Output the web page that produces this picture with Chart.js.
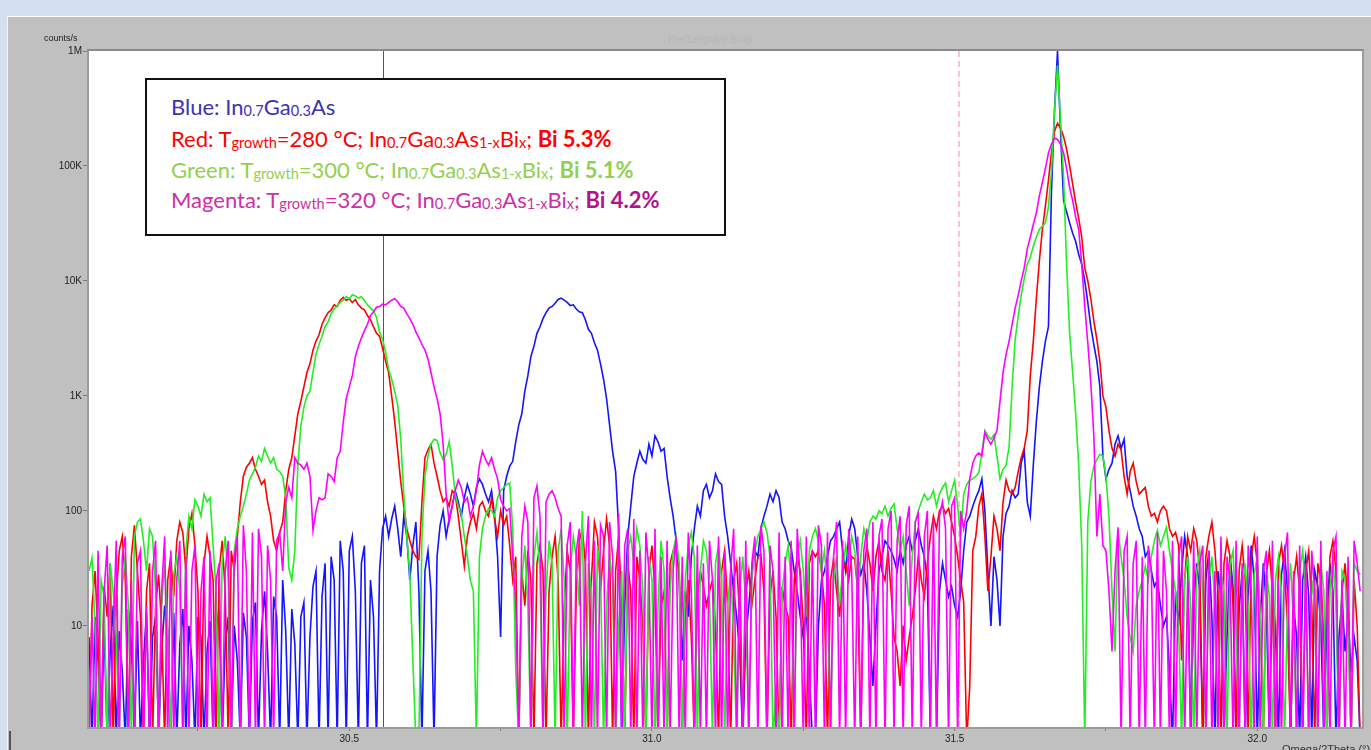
<!DOCTYPE html>
<html><head><meta charset="utf-8">
<script src="https://cdn.jsdelivr.net/npm/chart.js@4/dist/chart.umd.min.js"></script>
<style>
html,body{margin:0;padding:0;width:1371px;height:750px;overflow:hidden;background:#d3deef;}
#panel{position:absolute;left:7px;top:16px;width:1364px;height:734px;background:#c0c0c0;border-top:1px solid #fff;border-left:1px solid #f2f5fa;box-sizing:border-box;}
#cv{position:absolute;left:0;top:0;}
.lbl{position:absolute;font-family:"Liberation Sans",Arial,sans-serif;color:#222;white-space:nowrap;}
#legend{position:absolute;left:145px;top:78px;width:581px;height:158px;box-sizing:border-box;border:2px solid #111;background:#fff;font-family:Lato,"Open Sans",sans-serif;font-size:22px;}
#legend .ln{position:absolute;left:24px;white-space:nowrap;line-height:26px;}
#legend sub{font-size:0.66em;vertical-align:-0.1em;line-height:0;}
#legend b{font-weight:700;}
#edge{position:absolute;left:9px;top:731px;width:2px;height:19px;background:#555;}
</style></head>
<body>
<div id="panel"></div>
<div id="edge"></div>
<canvas id="cv" width="1371" height="750"></canvas>
<div class="lbl" style="left:44px;top:33px;font-size:9px;">counts/s</div>
<div class="lbl" style="left:668px;top:33px;font-size:11px;color:#b6b6b6;">Rectangular Snip</div>
<div class="lbl" style="left:1282px;top:743px;font-size:11px;color:#333;">Omega/2Theta (°)</div>
<div id="legend">
  <div class="ln" style="top:14px;color:#3b33b6;">Blue: In<sub>0.7</sub>Ga<sub>0.3</sub>As</div>
  <div class="ln" style="top:46px;color:#ff0000;">Red: T<sub>growth</sub>=280 °C; In<sub>0.7</sub>Ga<sub>0.3</sub>As<sub>1-x</sub>Bi<sub>x</sub>; <b>Bi 5.3%</b></div>
  <div class="ln" style="top:77px;color:#92d050;">Green: T<sub>growth</sub>=300 °C; In<sub>0.7</sub>Ga<sub>0.3</sub>As<sub>1-x</sub>Bi<sub>x</sub>; <b>Bi 5.1%</b></div>
  <div class="ln" style="top:107px;color:#cc2fa6;">Magenta: T<sub>growth</sub>=320 °C; In<sub>0.7</sub>Ga<sub>0.3</sub>As<sub>1-x</sub>Bi<sub>x</sub>; <b style="color:#b3128c;">Bi 4.2%</b></div>
</div>
<script>
// Omega/2Theta scan grid (degrees)
const startAngle = 30.07;
const stepAngle = 0.005;

// counts/s (1 = zero counts, below the axis floor)
const blueCounts = [
8,1,12,5,1,10,1,6,15,1,
9,4,1,14,7,1,11,1,5,13,
1,8,12,1,6,15,9,1,13,1,
7,14,1,10,5,1,12,8,1,6,
11,1,9,14,1,7,12,1,10,5,
1,13,8,1,11,16,1,9,20,6,
1,18,12,1,25,9,1,14,7,1,
12,16,1,8,22,30,1,18,35,1,
40,25,1,55,30,1,45,60,20,1,
35,50,1,25,12,1,30,70,90,60,
85,110,70,40,90,60,25,50,80,20,
1,30,45,20,1,40,75,100,60,85,
110,150,120,90,130,170,140,110,160,190,
170,140,120,150,90,40,8,150,200,245,
270,400,560,700,1100,1500,2200,2700,3500,4000,
4700,5300,5800,6000,6400,6900,7100,6800,6500,6100,
6200,5700,5400,5300,4600,3800,3500,2900,2500,1900,
1400,950,560,330,220,70,1,15,60,110,
200,260,330,280,260,380,300,450,400,330,
350,200,130,90,55,25,5,20,12,40,
70,110,90,150,170,130,150,210,180,170,
90,60,35,20,12,6,1,8,15,30,
45,40,70,90,110,140,120,150,130,80,
70,55,48,30,20,12,8,14,4,1,
1,10,25,30,40,55,60,70,80,45,
30,60,85,70,40,28,35,20,8,3,
10,30,40,55,50,45,38,30,45,35,
50,60,45,55,70,50,40,25,1,1,
1,20,35,25,18,22,15,12,20,45,
80,90,110,130,150,190,100,30,10,40,
25,10,60,95,110,150,130,140,260,330,
120,90,250,600,1200,2000,3000,4000,60000,300000,
1000000,200000,50000,40000,32000,26000,22000,17000,14000,10000,
6500,4000,2800,2000,1200,300,190,230,260,380,
450,350,420,200,150,110,90,70,60,40,
45,30,22,25,15,10,12,4,1,20,
10,30,60,40,1,15,35,20,1,25,
45,12,1,30,18,1,8,40,22,1,
14,30,1,18,50,25,1,12,35,15,
1,20,10,1,28,45,20,1,15,8,
1,25,40,18,1,30,22,10,1,12,
35,20,1,8,18,6,12,4,8,5,1
];
const redCounts = [
1,15,30,8,1,22,12,35,1,18,
45,60,25,1,40,75,30,12,1,20,
35,1,15,28,10,1,25,40,18,55,
80,65,30,70,95,50,20,1,35,60,
40,25,1,30,55,20,1,45,30,60,
120,200,240,260,290,230,200,170,185,120,
90,55,45,65,80,150,230,290,450,700,
900,1200,1600,1900,2500,3000,3400,4200,4800,5300,
5600,6200,6000,6800,7200,6800,7000,6500,6900,6200,
5800,5600,5000,4600,4000,3500,3300,2600,2000,1600,
1000,600,330,180,110,70,55,45,40,38,
120,290,340,380,260,200,150,120,130,110,
150,140,90,55,33,60,80,95,70,110,
120,100,90,130,85,60,100,75,90,50,
25,40,1,30,15,45,25,1,35,50,
30,1,20,40,60,25,1,15,45,30,
1,20,55,70,35,1,25,80,60,20,
45,85,50,1,30,60,15,1,35,20,
1,40,25,10,1,30,50,20,1,15,
20,1,35,45,50,30,1,12,25,8,
1,18,30,22,15,20,25,10,1,30,
45,15,1,25,35,12,1,20,30,15,
25,40,42,20,1,18,30,12,1,22,
15,12,1,25,40,30,10,1,35,45,
40,45,30,15,1,25,38,20,12,30,
35,25,40,38,20,1,30,50,35,20,
40,55,30,25,45,20,8,6,3,10,
5,8,12,20,40,25,18,35,60,90,
70,100,110,95,105,80,60,40,25,16,
1,3,45,60,110,140,60,20,40,90,
70,45,120,185,150,140,160,220,290,350,
500,1500,3000,7000,15000,28000,45000,75000,130000,200000,
235000,215000,180000,140000,100000,70000,48000,35000,24000,13000,
10000,7000,4500,3100,2000,1000,800,500,350,300,
380,340,200,140,220,260,180,140,150,160,
110,90,95,80,100,110,100,70,60,65,
50,5,25,60,45,70,55,30,1,40,
60,80,45,20,1,35,55,40,15,1,
30,50,25,1,40,60,35,12,1,28,
45,20,1,35,50,30,10,1,25,40,
20,1,30,45,15,1,35,25,8,1,
40,55,30,1,20,35,15,1,25,10,1
];
const greenCounts = [
30,39,10,1,25,18,1,35,20,8,
1,22,40,15,1,60,80,85,55,30,
70,60,20,1,15,35,10,1,28,40,
20,1,45,90,70,125,110,90,140,120,
130,50,20,1,35,60,25,1,45,70,
90,110,140,185,210,240,300,270,350,300,
260,290,230,220,200,130,32,25,45,250,
550,800,1000,1100,1600,2300,2800,3300,4000,4400,
5200,5700,6100,6500,6800,7300,7000,7600,7400,7100,
7300,6800,6200,5800,5500,4800,3600,3100,2400,1700,
1400,1100,830,420,140,60,28,5,1,1,
60,200,300,380,420,410,320,280,310,400,
250,140,110,95,60,40,25,20,1,40,
70,90,105,100,90,130,150,160,170,175,
70,4,1,25,50,15,1,40,65,30,
1,20,55,35,1,45,70,25,1,30,
60,40,15,100,1,35,20,1,50,30,
1,15,40,25,1,10,30,1,45,60,
35,70,50,20,1,40,25,1,15,55,
30,1,20,45,60,35,1,25,50,65,
40,1,30,55,45,20,1,35,50,25,
1,15,30,8,1,20,40,15,1,25,
45,60,70,80,65,40,1,3,1,20,
35,50,25,1,40,55,30,12,45,60,
70,55,30,45,20,1,25,40,15,30,
50,35,60,45,20,40,70,55,80,90,
85,100,95,110,90,105,115,70,45,60,
30,15,40,80,100,120,140,125,130,150,
110,140,160,175,120,150,185,110,60,140,
170,185,190,200,215,320,500,450,420,460,
300,190,230,250,360,1200,3100,4900,7500,10500,
14000,16000,20000,24000,28000,30000,32000,44000,90000,300000,
750000,250000,80000,14000,3500,1600,700,250,50,1,
80,180,245,280,310,300,200,90,20,6,
68,40,25,12,8,6,15,20,25,33,
25,40,55,68,50,60,72,45,30,20,
10,1,25,40,15,1,30,45,20,1,
25,40,15,1,30,20,1,35,45,10,
1,20,35,15,1,28,40,12,1,30,
18,1,25,40,20,1,15,35,10,1,
30,45,20,1,25,15,1,35,20,1,
20,40,15,1,30,25,8,1,35,30,28
];
const magentaCounts = [
1,12,1,45,1,20,50,1,8,55,
1,40,60,1,25,1,35,45,1,15,
1,30,55,1,20,60,1,45,1,25,
55,1,40,1,30,50,1,20,40,1,
45,1,25,35,1,30,55,1,40,60,
1,75,30,1,65,1,70,40,1,50,
25,1,55,65,30,120,160,130,290,260,
250,230,260,200,68,100,130,125,130,210,
200,180,290,330,590,950,1200,1500,2200,2700,
3200,3700,4200,5000,5400,5900,6000,6300,6200,6500,
6800,7000,6600,6000,5800,5200,4700,4200,3600,3200,
2800,2500,2100,1600,1200,950,700,380,140,80,
110,150,185,160,120,130,90,110,150,250,
330,280,250,290,230,190,125,110,100,105,
40,16,1,60,110,80,1,130,165,90,
1,120,140,150,130,105,90,1,50,80,
1,45,70,1,35,90,1,55,1,75,
60,1,80,40,1,95,1,50,70,1,
85,1,45,1,65,30,1,70,1,40,
1,55,1,30,60,1,40,1,65,20,
1,50,1,35,1,55,25,1,60,1,
45,1,30,70,1,40,1,55,1,35,
60,1,75,45,1,50,30,1,65,1,
40,1,55,1,70,25,1,60,1,45,
1,75,50,1,65,1,40,80,1,55,
1,70,30,1,60,1,45,70,1,80,
1,60,85,1,70,100,1,55,90,1,
75,110,1,80,95,1,60,100,1,85,
1,90,120,70,1,110,130,1,100,70,
100,190,260,300,320,300,480,420,380,430,
500,900,1600,2300,3000,4200,5800,7500,10000,13000,
19000,24000,31000,39000,55000,72000,95000,130000,155000,175000,
170000,155000,130000,95000,65000,50000,36000,28000,14000,6000,
2900,1300,450,60,140,50,45,20,6,30,
72,1,45,60,1,35,55,1,40,1,
50,30,1,65,1,45,20,1,55,1,
40,60,1,25,1,55,1,35,50,1,
45,1,30,1,60,1,40,25,1,55,
1,35,1,50,20,1,60,1,30,45,
1,55,1,25,1,40,65,1,30,1,
50,1,35,1,45,20,1,55,1,30,
1,45,60,1,25,1,40,1,55,35,20
];

// axis ticks
const yTickValues = [10, 100, 1000, 10000, 100000, 1000000];
const yTickLabels = ['10', '100', '1K', '10K', '100K', '1M'];
const xTickValues = [30.25, 30.5, 30.75, 31.0, 31.25, 31.5, 31.75, 32.0];
const xTickLabels = ['', '30.5', '', '31.0', '', '31.5', '', '32.0'];
// marker lines (degrees)
const cursorAngle = 30.556;
const referenceAngle = 31.508;

const angles = blueCounts.map((_, i) => +(startAngle + i * stepAngle).toFixed(3));
const toXY = arr => arr.map((v, i) => ({x: angles[i], y: v}));

const decor = {
  id: 'decor',
  beforeDraw(chart) {
    const {ctx, chartArea: a} = chart;
    ctx.save();
    ctx.fillStyle = '#ffffff';
    ctx.fillRect(a.left, a.top, a.right - a.left, a.bottom - a.top);
    ctx.restore();
  },
  beforeDatasetsDraw(chart) {
    const {ctx, chartArea: a, scales: {x}} = chart;
    ctx.save();
    ctx.beginPath(); ctx.rect(a.left, a.top, a.right - a.left, a.bottom - a.top); ctx.clip();
    let px = Math.round(x.getPixelForValue(cursorAngle)) + 0.5;
    ctx.strokeStyle = '#555'; ctx.lineWidth = 1;
    ctx.beginPath(); ctx.moveTo(px, a.top); ctx.lineTo(px, a.bottom); ctx.stroke();
    px = Math.round(x.getPixelForValue(referenceAngle));
    ctx.strokeStyle = '#ffc4cb'; ctx.lineWidth = 2; ctx.setLineDash([6, 4]);
    ctx.beginPath(); ctx.moveTo(px, a.top); ctx.lineTo(px, a.bottom); ctx.stroke();
    ctx.restore();
  },
  afterDraw(chart) {
    const {ctx, chartArea: a} = chart;
    ctx.save();
    ctx.lineWidth = 2;
    ctx.strokeStyle = '#9c9c9c';
    ctx.beginPath();
    ctx.moveTo(a.left - 1, a.top); ctx.lineTo(a.left - 1, a.bottom + 2);
    ctx.moveTo(a.left - 1, a.bottom + 1); ctx.lineTo(a.right + 2, a.bottom + 1);
    ctx.moveTo(a.right + 1, a.top); ctx.lineTo(a.right + 1, a.bottom + 2);
    ctx.stroke();
    ctx.strokeStyle = '#8a8a8a';
    ctx.beginPath(); ctx.moveTo(a.left - 2, a.top - 1); ctx.lineTo(a.right + 2, a.top - 1); ctx.stroke();
    ctx.restore();
  }
};

const ds = (label, arr, color) => ({
  label, data: toXY(arr), borderColor: color, borderWidth: 1.6,
  pointRadius: 0, tension: 0, fill: false, clip: 0
});

new Chart(document.getElementById('cv'), {
  type: 'line',
  data: {
    datasets: [
      ds('Magenta', magentaCounts, '#ff00ff'),
      ds('Green', greenCounts, '#22ee22'),
      ds('Red', redCounts, '#ff0000'),
      ds('Blue', blueCounts, '#1414ff')
    ]
  },
  options: {
    responsive: false, animation: false, devicePixelRatio: 1,
    layout: {padding: {left: 0, right: 9, top: 51, bottom: 0}},
    plugins: {legend: {display: false}, tooltip: {enabled: false}},
    scales: {
      x: {
        type: 'linear', min: 30.07, max: 32.173,
        afterFit(s) { s.height = 23; },
        afterBuildTicks(s) { s.ticks = xTickValues.map(v => ({value: v})); },
        border: {display: false},
        grid: {drawOnChartArea: false, drawTicks: true, tickLength: 4, color: '#777'},
        ticks: {
          autoSkip: false, maxRotation: 0, padding: 2, color: '#222',
          font: {family: 'Liberation Sans', size: 10},
          callback: (v, i) => xTickLabels[i]
        }
      },
      y: {
        type: 'logarithmic', min: 1.32, max: 1000000,
        afterFit(s) { s.width = 89; },
        afterBuildTicks(s) { s.ticks = yTickValues.map(v => ({value: v})); },
        border: {display: false},
        grid: {drawOnChartArea: false, drawTicks: true, tickLength: 6, color: '#777'},
        ticks: {
          padding: 1, color: '#222',
          font: {family: 'Liberation Sans', size: 10},
          callback: (v, i) => yTickLabels[i]
        }
      }
    }
  },
  plugins: [decor]
});
</script>
</body></html>
